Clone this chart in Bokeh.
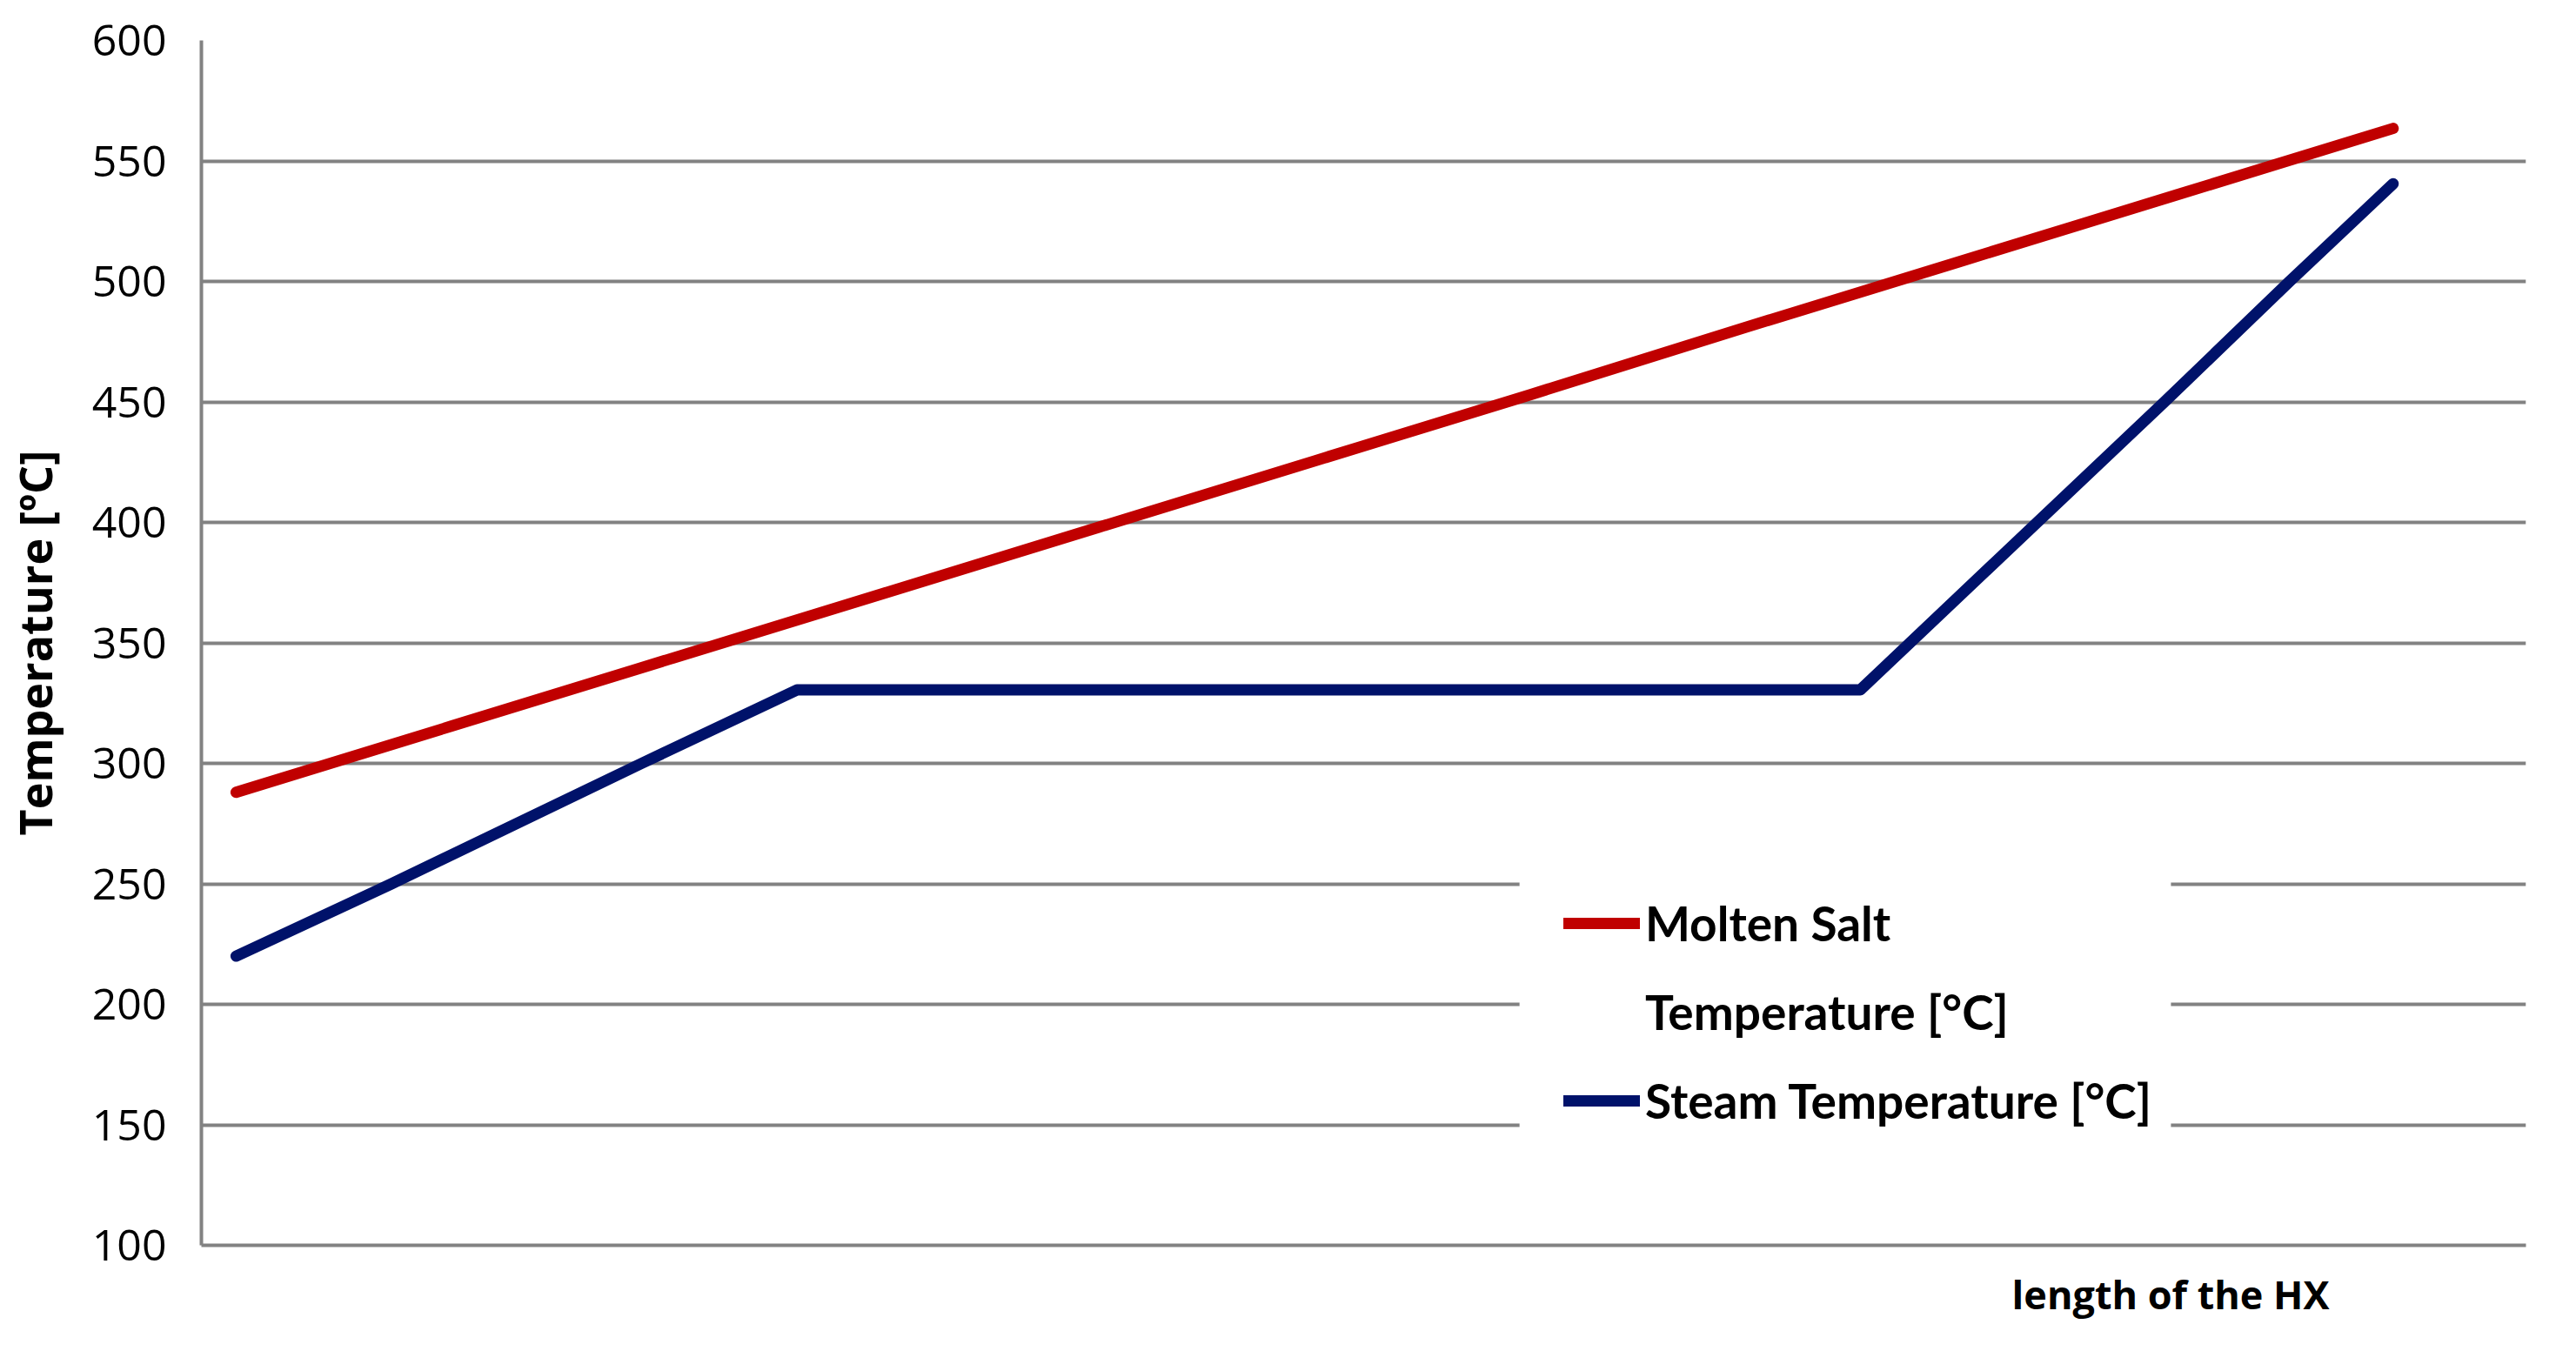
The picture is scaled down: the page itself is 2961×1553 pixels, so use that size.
from bokeh.plotting import figure
from bokeh.models import Range1d, FixedTicker, Legend, LegendItem, Title, BoxAnnotation
from bokeh.embed import file_html
from bokeh.resources import INLINE

# ---- data ----
salt_x = [0, 10, 20, 30, 40, 50, 60, 70, 80, 90, 100]
salt_T = [288, 315.5, 343, 370.5, 398, 425.5, 453, 481, 508.5, 536, 563.5]

steam_x = [0, 7.2, 18.8, 26, 75.3, 77.6, 83.5, 89.4, 95.2, 100]
steam_T = [220, 250, 300, 330.5, 330.5, 350, 400, 450, 500, 540.5]

y_ticks = [100, 150, 200, 250, 300, 350, 400, 450, 500, 550, 600]

salt_label_1 = "Molten Salt"
salt_label_2 = "Temperature [°C]"
steam_label = "Steam Temperature [°C]"
y_title = "Temperature [ºC]"
x_title = "length of the HX"

GRID = "#828282"
SANS = "Open Sans"

p = figure(width=2945, height=1537, output_backend="svg", toolbar_location=None,
           x_range=Range1d(-1.61, 106.16), y_range=Range1d(100, 600),
           min_border_left=212, min_border_right=42, min_border_top=46, min_border_bottom=106)
p.outline_line_color = None
p.background_fill_color = "white"

r_salt = p.line(salt_x, salt_T, line_color="#c00000", line_width=13, line_cap="round", line_join="round")
r_steam = p.line(steam_x, steam_T, line_color="#00126a", line_width=13, line_cap="round", line_join="round")
r_blank = p.line([], [], line_alpha=0)

# y axis
p.yaxis.ticker = FixedTicker(ticks=y_ticks)
p.yaxis.major_tick_line_color = None
p.yaxis.minor_tick_line_color = None
p.yaxis.axis_line_color = GRID
p.yaxis.axis_line_width = 4
p.yaxis.major_label_text_font = SANS
p.yaxis.major_label_text_font_size = "50px"
p.yaxis.major_label_text_color = "black"
p.yaxis.major_label_standoff = 34
p.yaxis.axis_label = y_title
p.yaxis.axis_label_text_font = SANS
p.yaxis.axis_label_text_font_size = "52px"
p.yaxis.axis_label_text_font_style = "bold"
p.yaxis.axis_label_text_color = "black"
p.yaxis.axis_label_standoff = 28

# x axis (no ticks/labels)
p.xaxis.major_tick_line_color = None
p.xaxis.minor_tick_line_color = None
p.xaxis.major_tick_out = 0
p.xaxis.major_label_standoff = 0
p.xaxis.major_label_text_color = None
p.xaxis.major_label_text_font_size = "1px"
p.xaxis.axis_line_color = GRID
p.xaxis.axis_line_width = 4

p.ygrid.ticker = FixedTicker(ticks=y_ticks)
p.ygrid.grid_line_color = GRID
p.ygrid.grid_line_width = 4
p.xgrid.grid_line_color = None

p.add_layout(Title(text=x_title, align="right", offset=226, standoff=38,
                   text_font=SANS, text_font_size="45px", text_font_style="bold",
                   text_color="black"), "below")

# white backing of the legend (hides the grid lines behind it)
p.add_layout(BoxAnnotation(left=59.5, right=89.7, top=256, bottom=139.6,
                           fill_color="white", fill_alpha=1.0, line_color=None))

legend = Legend(items=[LegendItem(label=salt_label_1, renderers=[r_salt]),
                       LegendItem(label=salt_label_2, renderers=[r_blank]),
                       LegendItem(label=steam_label, renderers=[r_steam])],
                location=(1566, 133), orientation="vertical",
                background_fill_color="white", background_fill_alpha=1.0,
                border_line_color=None, padding=0, margin=0, spacing=36,
                glyph_width=88, glyph_height=66, label_height=66, label_standoff=6,
                label_text_font="Lato",
                label_text_font_size="55px", label_text_font_style="bold",
                label_text_color="black")
p.add_layout(legend, "center")

open("out.html", "w").write(file_html(p, INLINE))
